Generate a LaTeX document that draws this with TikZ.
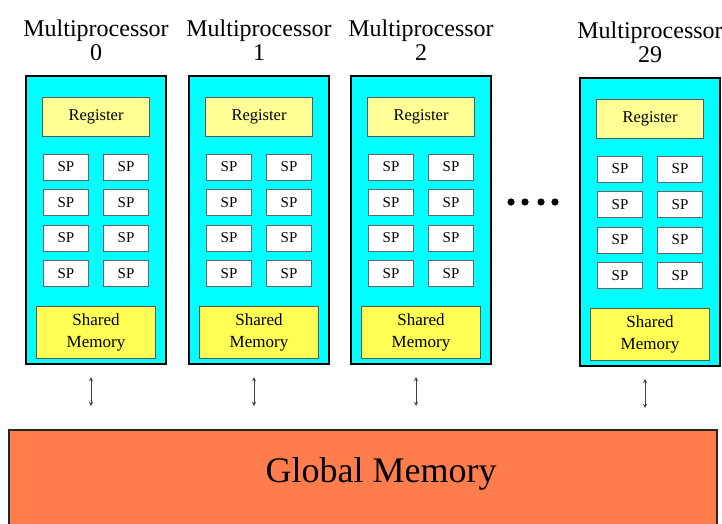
\documentclass[tikz,border=0pt]{standalone}
\usepackage{fontspec}
\setmainfont{Liberation Serif}
\usepackage{xcolor}
\usetikzlibrary{arrows}

\definecolor{mpcyan}{RGB}{0,255,255}
\definecolor{regyellow}{RGB}{255,255,150}
\definecolor{shyellow}{RGB}{255,255,85}
\definecolor{gmorange}{RGB}{255,124,76}

\begin{document}
\begin{tikzpicture}[x=1pt, y=-1pt,
    mpbox/.style={rectangle, draw=black, line width=2pt, fill=mpcyan, minimum width=140pt, minimum height=288pt, inner sep=0pt},
    regbox/.style={rectangle, draw=black!65, line width=1pt, fill=regyellow, minimum width=107pt, minimum height=39pt, inner sep=0pt, font=\fontsize{16.5}{18}\selectfont},
    spbox/.style={rectangle, draw=black!60, line width=1pt, fill=white, minimum width=45pt, minimum height=26pt, inner sep=0pt, font=\fontsize{15}{16}\selectfont},
    shbox/.style={rectangle, draw=black!65, line width=1pt, fill=shyellow, minimum width=119pt, minimum height=52pt, inner sep=0pt, align=center, font=\fontsize{17}{22}\selectfont},
    title/.style={align=center, inner sep=0pt, font=\fontsize{24}{24}\selectfont},
    arrow/.style={line width=0.9pt, <->, >=stealth, black!75}]

    \useasboundingbox (0,0) rectangle (722,523);

    % global memory
    \node [rectangle, draw=black!85, line width=2pt, fill=gmorange, minimum width=708pt, minimum height=110pt, inner sep=0pt] (gm) at (363,485) {};
    \node [anchor=base, inner sep=0pt, font=\fontsize{36}{36}\selectfont] (gmlabel) at (381,482) {Global Memory};

    % multiprocessors
    \foreach \n/\L/\T in {0/25/75, 1/188/75, 2/350/75, 29/579/77} {
        \node [mpbox] (mp\n) at (\L+71,\T+145) {};
        \node [title, anchor=base] (title\n) at (\L+71,\T-15) {Multiprocessor\\\n};
        \node [regbox] (reg\n) at (\L+71,\T+42) {Register};
        \foreach \r in {0,...,3} {
            \node [spbox] (spa\n-\r) at (\L+41,\T+92+35.5*\r) {SP};
            \node [spbox] (spb\n-\r) at (\L+101,\T+92+35.5*\r) {SP};
        }
        \node [shbox] (sm\n) at (\L+71,\T+257.5) {Shared\\Memory};
        \coordinate (up\n) at (\L+66,\T+302);
        \coordinate (dn\n) at (\L+66,\T+331);
        \draw [arrow] (up\n) -- (dn\n);
    }

    % dots
    \foreach \d in {511,525,541,555}
        \fill (\d,202) circle (3.6);
\end{tikzpicture}
\end{document}
